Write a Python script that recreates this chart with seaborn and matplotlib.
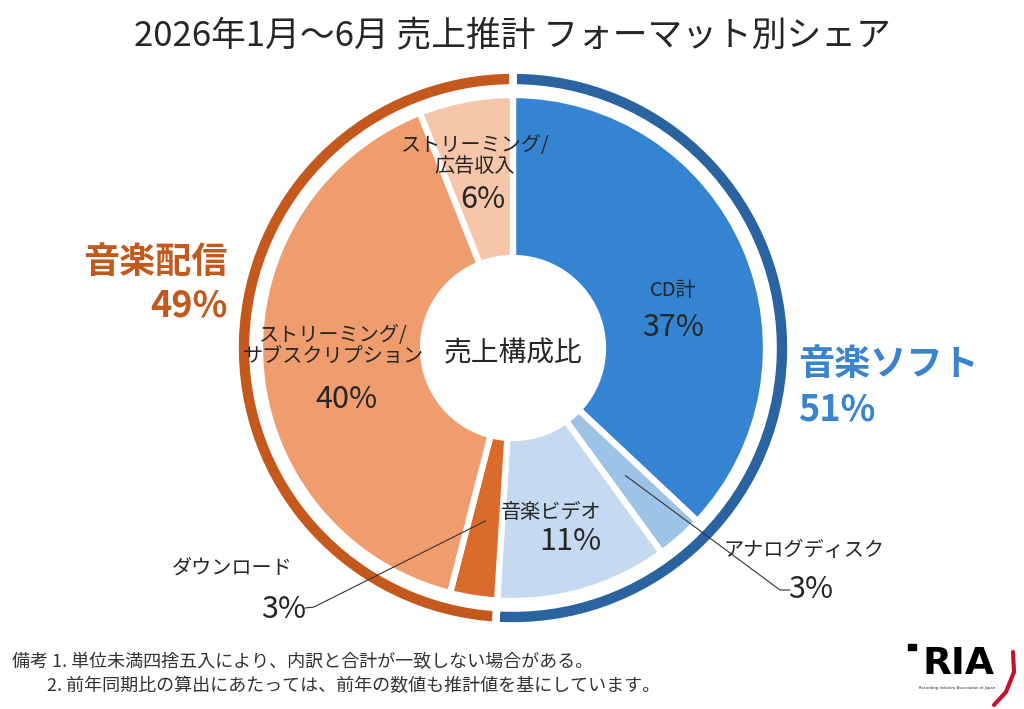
import numpy as np
import seaborn as sns
import matplotlib.pyplot as plt

# data
inner_labels = ['CD計', 'アナログディスク', '音楽ビデオ', 'ダウンロード',
                'ストリーミング/\nサブスクリプション', 'ストリーミング/\n広告収入']
inner_share = [37, 3, 11, 3, 40, 6]
inner_colors = ['#3584d2', '#9dc3e6', '#c5daf0', '#da6b2c', '#ef9c6e', '#f6c6aa']

outer_labels = ['音楽ソフト', '音楽配信']
outer_share = [51, 49]
outer_colors = ['#2a63a0', '#c5581d']
outer_text_colors = ['#3a83cd', '#c25a1e']

title = '2026年1月～6月 売上推計 フォーマット別シェア'
center_label = '売上構成比'
notes = ['備考 1. 単位未満四捨五入により、内訳と合計が一致しない場合がある。',
         '2. 前年同期比の算出にあたっては、前年の数値も推計値を基にしています。']

W, H = 1024, 709
CX, CY = 513, 348
LBL = 14.5   # wedge name size
PCT = 22     # wedge percent size
BIG = 26     # category totals


def P(x, y):
    # pixel position (top-left origin) -> axes data coords
    return x, H - y


def mid_point(values, i, r):
    # point inside wedge i, pie starts at 12 o'clock and goes clockwise
    frac = (sum(values[:i]) + values[i] / 2) / sum(values)
    ang = np.deg2rad(90 - frac * 360)
    return CX + r * np.cos(ang), CY - r * np.sin(ang)


sns.set_theme(style='white')
plt.rcParams['font.family'] = ['Noto Sans CJK JP', 'DejaVu Sans']

fig = plt.figure(figsize=(W / 100, H / 100), dpi=100)
ax = fig.add_axes([0, 0, 1, 1])

# outer ring (category totals)
ax.pie(outer_share, colors=outer_colors, radius=278, center=P(CX, CY),
       startangle=90, counterclock=False, frame=True,
       wedgeprops=dict(width=18, edgecolor='white', linewidth=5.5))

# inner donut (formats)
ax.pie(inner_share, colors=inner_colors, radius=253, center=P(CX, CY),
       startangle=90, counterclock=False, frame=True,
       wedgeprops=dict(width=163, edgecolor='white', linewidth=4.5))

ax.set_xlim(0, W)
ax.set_ylim(0, H)
ax.set_aspect('equal')
ax.axis('off')

ax.text(*P(CX, 353), center_label, fontsize=20, ha='center', va='center')

# labels inside wedges
ax.text(*P(673, 290), inner_labels[0], fontsize=LBL, ha='center', va='center')
ax.text(*P(673, 328), f'{inner_share[0]}%', fontsize=PCT, ha='center', va='center')

ax.text(*P(551, 512), inner_labels[2], fontsize=LBL, ha='center', va='center')
ax.text(*P(570, 542), f'{inner_share[2]}%', fontsize=PCT, ha='center', va='center')

ax.text(*P(333, 346), inner_labels[4], fontsize=LBL, ha='center', va='center',
        linespacing=0.95)
ax.text(*P(347, 400), f'{inner_share[4]}%', fontsize=PCT, ha='center', va='center')

ax.text(*P(475, 156), inner_labels[5], fontsize=LBL, ha='center', va='center',
        linespacing=0.95)
ax.text(*P(483, 199), f'{inner_share[5]}%', fontsize=PCT, ha='center', va='center')

# small wedges with leader lines
x0, y0 = mid_point(inner_share, 1, 170)
ax.plot([x0, 780, 790], [H - y0, H - 590, H - 590], color='#333333', lw=0.8)
ax.text(*P(804, 551), inner_labels[1], fontsize=LBL, ha='center', va='center')
ax.text(*P(788, 589), f'{inner_share[1]}%', fontsize=PCT, ha='left', va='center')

x0, y0 = mid_point(inner_share, 3, 175)
ax.plot([x0, 314, 305], [H - y0, H - 607, H - 608], color='#333333', lw=0.8)
ax.text(*P(232, 568), inner_labels[3], fontsize=LBL, ha='center', va='center')
ax.text(*P(306, 609), f'{inner_share[3]}%', fontsize=PCT, ha='right', va='center')

# category totals outside the ring
ax.text(*P(798, 365), outer_labels[0], fontsize=BIG, fontweight='bold',
        color=outer_text_colors[0], ha='left', va='center')
ax.text(*P(798, 410), f'{outer_share[0]}%', fontsize=BIG, fontweight='bold',
        color=outer_text_colors[0], ha='left', va='center')
ax.text(*P(228, 262), outer_labels[1], fontsize=BIG, fontweight='bold',
        color=outer_text_colors[1], ha='right', va='center')
ax.text(*P(228, 306), f'{outer_share[1]}%', fontsize=BIG, fontweight='bold',
        color=outer_text_colors[1], ha='right', va='center')

ax.text(*P(W / 2, 37), title, fontsize=25, ha='center', va='center')

ax.text(*P(12, 662), notes[0], fontsize=13, color='#333333', ha='left', va='center')
ax.text(*P(47, 686), notes[1], fontsize=13, color='#333333', ha='left', va='center')

# logo
ax.text(*P(958, 664), 'RIA', fontsize=27, fontweight='heavy', ha='center',
        va='center', family='DejaVu Sans', color='black')
ax.add_patch(plt.Rectangle(P(908, 650), 8, 6, color='black'))
ax.plot([1013, 1014, 1006, 994], [H - 652, H - 672, H - 692, H - 705],
        color='#c4122f', lw=3, solid_capstyle='round')
ax.text(*P(957, 688), 'Recording Industry Association of Japan', fontsize=2.7,
        ha='center', va='center', family='DejaVu Sans')

fig.savefig('out.png', dpi=100)
